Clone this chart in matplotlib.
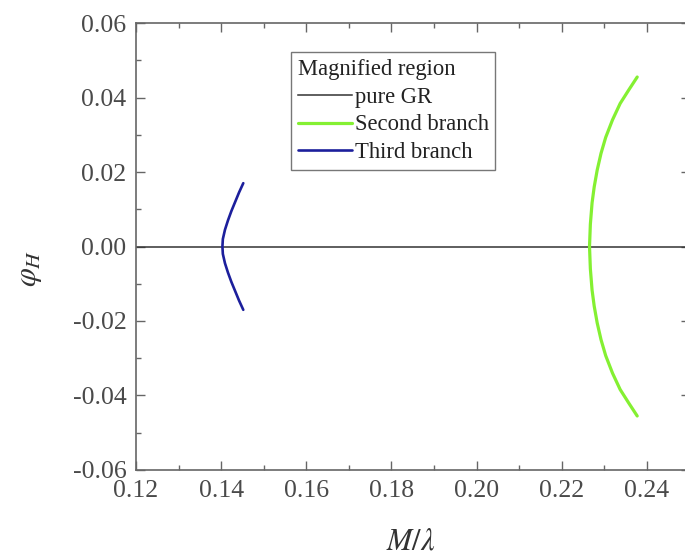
import matplotlib
matplotlib.use("Agg")
import matplotlib.pyplot as plt
from matplotlib.ticker import MultipleLocator

plt.rcParams['font.family'] = ['Liberation Serif', 'DejaVu Serif']
plt.rcParams['mathtext.fontset'] = 'stix'
plt.rcParams['axes.unicode_minus'] = False

# pure GR line (phi_H = 0)
gr_x = [0.12, 0.25]
gr_phi = [0.0, 0.0]

# Second branch (upper half; lower half mirrors it)
second_phi_up = [0.0455, 0.0420, 0.0384, 0.0340, 0.0293, 0.0250, 0.0205, 0.0160, 0.0117, 0.0060, 0.0]
second_x_up = [0.2377, 0.2357, 0.2337, 0.2319, 0.2303, 0.2292, 0.2283, 0.2276, 0.2271, 0.2267, 0.2265]

# Third branch (upper half; lower half mirrors it)
third_phi_up = [0.0170, 0.0145, 0.0120, 0.0095, 0.0070, 0.0045, 0.0020, 0.0]
third_x_up = [0.1452, 0.1442, 0.1433, 0.1424, 0.1416, 0.1409, 0.1404, 0.1403]

second_phi = second_phi_up + [-p for p in reversed(second_phi_up[:-1])]
second_x = second_x_up + list(reversed(second_x_up[:-1]))
third_phi = third_phi_up + [-p for p in reversed(third_phi_up[:-1])]
third_x = third_x_up + list(reversed(third_x_up[:-1]))

xticks = [0.12, 0.14, 0.16, 0.18, 0.20, 0.22, 0.24]
yticks = [-0.06, -0.04, -0.02, 0.00, 0.02, 0.04, 0.06]

fig = plt.figure(figsize=(6.85, 5.57), dpi=100)
ax = fig.add_axes([0.1985, 0.1562, 0.8082, 0.8025])

ax.plot(gr_x, gr_phi, color='#333333', lw=1.1, label='pure GR', zorder=2)
ax.plot(second_x, second_phi, color='#84f032', lw=2.3, label='Second branch', zorder=3,
        solid_joinstyle='round', solid_capstyle='round')
ax.plot(third_x, third_phi, color='#1c1f9c', lw=1.9, label='Third branch', zorder=3,
        solid_joinstyle='round', solid_capstyle='round')

ax.set_xlim(0.12, 0.25)
ax.set_ylim(-0.06, 0.06)
ax.set_xticks(xticks)
ax.set_yticks(yticks)
ax.set_xticklabels([f"{v:.2f}" for v in xticks])
ax.set_yticklabels([f"{v:.2f}" for v in yticks])
ax.xaxis.set_minor_locator(MultipleLocator(0.01))
ax.yaxis.set_minor_locator(MultipleLocator(0.01))

spine_c = '#666666'
for s in ax.spines.values():
    s.set_color(spine_c)
    s.set_linewidth(1.2)
ax.tick_params(which='both', direction='in', top=True, right=True, color=spine_c)
ax.tick_params(which='major', length=6.5, width=1.0, labelsize=18.5, labelcolor='#4a4a4a')
ax.tick_params(which='minor', length=3.5, width=1.0)
ax.tick_params(axis='x', which='major', pad=7)
ax.tick_params(axis='y', which='major', pad=7)

ax.set_xlabel(r'$M/\lambda$', fontsize=22, color='#333333')
ax.xaxis.set_label_coords(0.497, -0.128)
ax.set_ylabel(r'$\varphi_H$', fontsize=22, color='#333333')
ax.yaxis.set_label_coords(-0.166, 0.452)

leg = ax.legend(loc='upper left', bbox_to_anchor=(0.2805, 0.935), borderaxespad=0,
                title='Magnified region', fontsize=16.3, title_fontsize=16.3,
                frameon=True, fancybox=False, edgecolor='#555555',
                handlelength=2.4, handletextpad=0.1, borderpad=0.3,
                labelspacing=0.3, alignment='left')
leg.get_frame().set_linewidth(1.0)
for t in leg.get_texts():
    t.set_color('#222222')
leg.get_title().set_color('#222222')

fig.savefig('out.png', dpi=100)
